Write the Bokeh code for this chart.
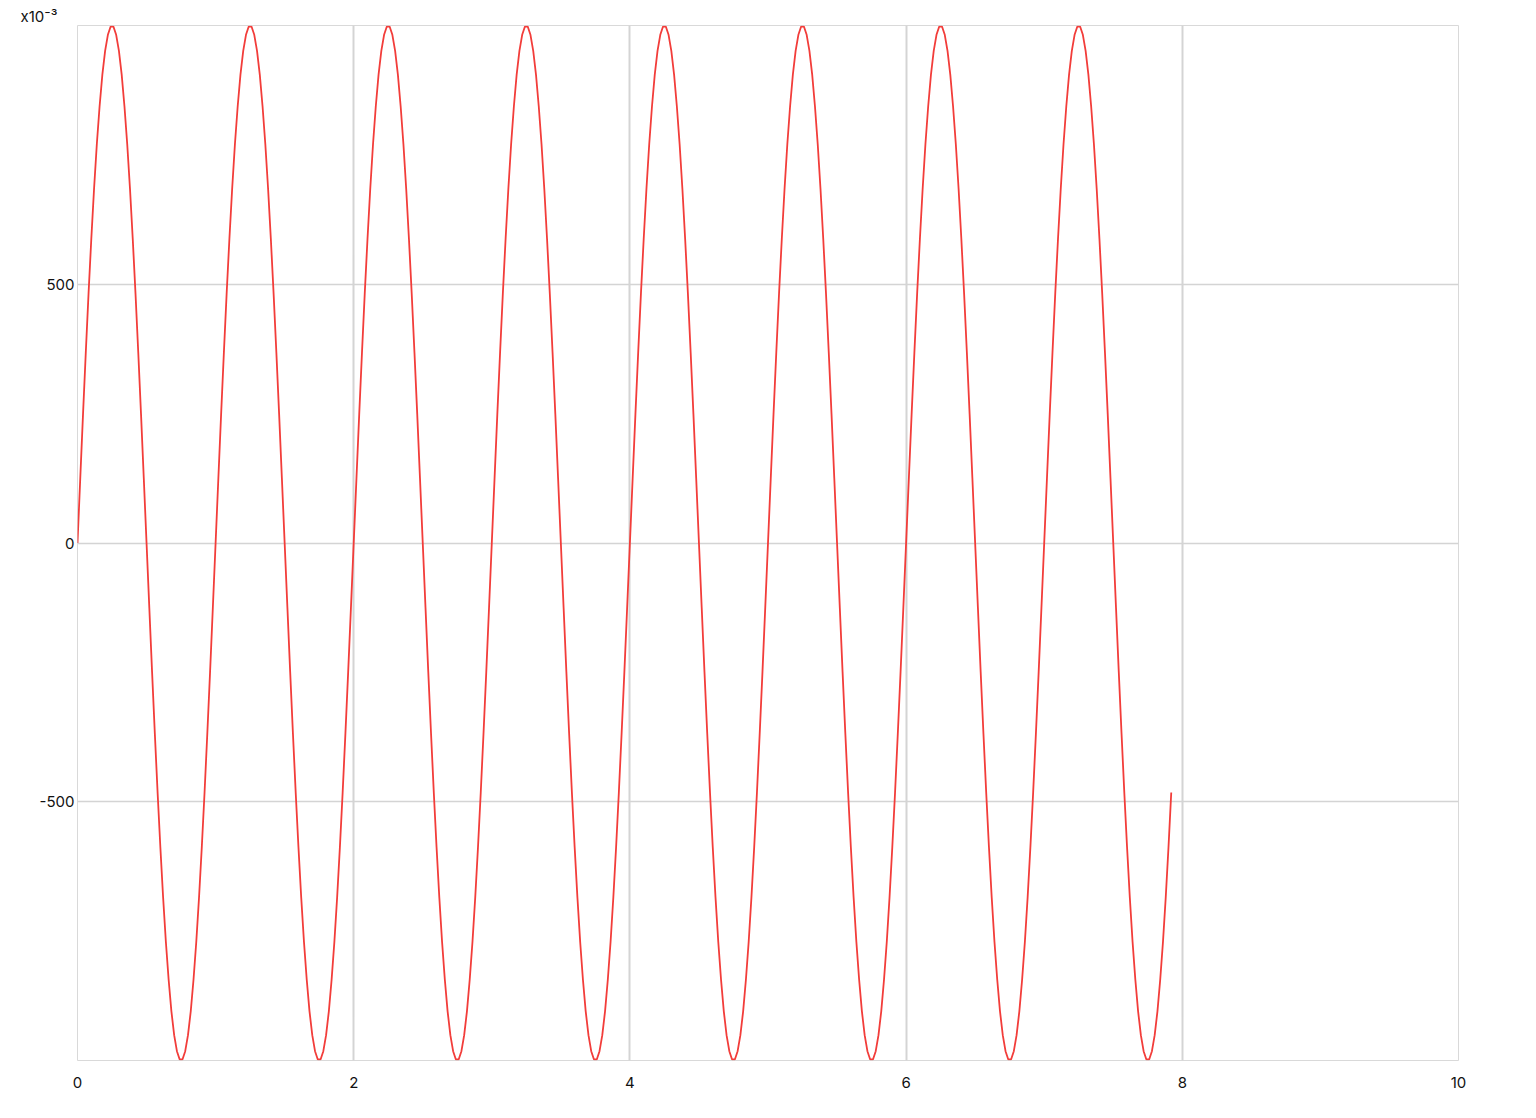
from bokeh.plotting import figure
from bokeh.models import FixedTicker, Range1d, Title, PrintfTickFormatter
from bokeh.embed import file_html
from bokeh.resources import INLINE

# ---- data (values in units of 10^-3) ----
x_start = 0.0
x_step = 0.02
y_values = [
    0, 125, 249, 368, 482, 588, 685, 771, 844, 905, 951, 982, 998, 998, 982, 951, 905, 844, 771, 685, 588, 482, 368, 249, 125,
    0, -125, -249, -368, -482, -588, -685, -771, -844, -905, -951, -982, -998, -998, -982, -951, -905, -844, -771, -685, -588, -482, -368, -249, -125,
    0, 125, 249, 368, 482, 588, 685, 771, 844, 905, 951, 982, 998, 998, 982, 951, 905, 844, 771, 685, 588, 482, 368, 249, 125,
    0, -125, -249, -368, -482, -588, -685, -771, -844, -905, -951, -982, -998, -998, -982, -951, -905, -844, -771, -685, -588, -482, -368, -249, -125,
    0, 125, 249, 368, 482, 588, 685, 771, 844, 905, 951, 982, 998, 998, 982, 951, 905, 844, 771, 685, 588, 482, 368, 249, 125,
    0, -125, -249, -368, -482, -588, -685, -771, -844, -905, -951, -982, -998, -998, -982, -951, -905, -844, -771, -685, -588, -482, -368, -249, -125,
    0, 125, 249, 368, 482, 588, 685, 771, 844, 905, 951, 982, 998, 998, 982, 951, 905, 844, 771, 685, 588, 482, 368, 249, 125,
    0, -125, -249, -368, -482, -588, -685, -771, -844, -905, -951, -982, -998, -998, -982, -951, -905, -844, -771, -685, -588, -482, -368, -249, -125,
    0, 125, 249, 368, 482, 588, 685, 771, 844, 905, 951, 982, 998, 998, 982, 951, 905, 844, 771, 685, 588, 482, 368, 249, 125,
    0, -125, -249, -368, -482, -588, -685, -771, -844, -905, -951, -982, -998, -998, -982, -951, -905, -844, -771, -685, -588, -482, -368, -249, -125,
    0, 125, 249, 368, 482, 588, 685, 771, 844, 905, 951, 982, 998, 998, 982, 951, 905, 844, 771, 685, 588, 482, 368, 249, 125,
    0, -125, -249, -368, -482, -588, -685, -771, -844, -905, -951, -982, -998, -998, -982, -951, -905, -844, -771, -685, -588, -482, -368, -249, -125,
    0, 125, 249, 368, 482, 588, 685, 771, 844, 905, 951, 982, 998, 998, 982, 951, 905, 844, 771, 685, 588, 482, 368, 249, 125,
    0, -125, -249, -368, -482, -588, -685, -771, -844, -905, -951, -982, -998, -998, -982, -951, -905, -844, -771, -685, -588, -482, -368, -249, -125,
    0, 125, 249, 368, 482, 588, 685, 771, 844, 905, 951, 982, 998, 998, 982, 951, 905, 844, 771, 685, 588, 482, 368, 249, 125,
    0, -125, -249, -368, -482, -588, -685, -771, -844, -905, -951, -982, -998, -998, -982, -951, -905, -844, -771, -685, -588, -482,
]
x_values = [round(x_start + i * x_step, 4) for i in range(len(y_values))]

x_ticks = [0, 2, 4, 6, 8, 10]
y_ticks = [-500, 0, 500]
x_min, x_max = 0, 10
y_min, y_max = -1000, 1000
multiplier_text = "x10\u207b\u00b3"

FONT = "Inter"

p = figure(
    width=1508, height=1110,
    output_backend="svg", toolbar_location=None,
    x_range=Range1d(x_min, x_max), y_range=Range1d(y_min, y_max),
    min_border_left=77, min_border_top=25, min_border_right=50, min_border_bottom=50,
)
p.background_fill_color = "white"
p.border_fill_color = "white"
p.outline_line_color = "#d9d9d9"
p.outline_line_width = 1

p.line(x_values, y_values, line_color="#f23d3a", line_width=1.8)

for ax in (p.xaxis[0], p.yaxis[0]):
    ax.axis_line_color = None
    ax.major_tick_line_color = None
    ax.minor_tick_line_color = None
    ax.major_tick_out = 0
    ax.major_tick_in = 0
    ax.minor_tick_out = 0
    ax.minor_tick_in = 0
    ax.major_label_text_font = FONT
    ax.major_label_text_font_size = "15px"
    ax.major_label_text_color = "#111111"
    ax.formatter = PrintfTickFormatter(format="%d")

p.xaxis[0].ticker = FixedTicker(ticks=x_ticks)
p.yaxis[0].ticker = FixedTicker(ticks=y_ticks)
p.xaxis[0].major_label_standoff = 16
p.yaxis[0].major_label_standoff = 3

p.xgrid[0].ticker = FixedTicker(ticks=[t for t in x_ticks if x_min < t < x_max])
p.ygrid[0].ticker = FixedTicker(ticks=y_ticks)
p.xgrid[0].grid_line_color = "#d4d4d4"
p.xgrid[0].grid_line_width = 2
p.ygrid[0].grid_line_color = "#d4d4d4"
p.ygrid[0].grid_line_width = 1.5

# multiplier note at the top-left, above the y axis
p.add_layout(Title(text=multiplier_text, align="left", offset=-57, standoff=0,
                   text_font=FONT, text_font_size="15px", text_font_style="normal",
                   text_color="#111111", vertical_align="bottom"), "above")

open("out.html", "w").write(file_html(p, INLINE))
